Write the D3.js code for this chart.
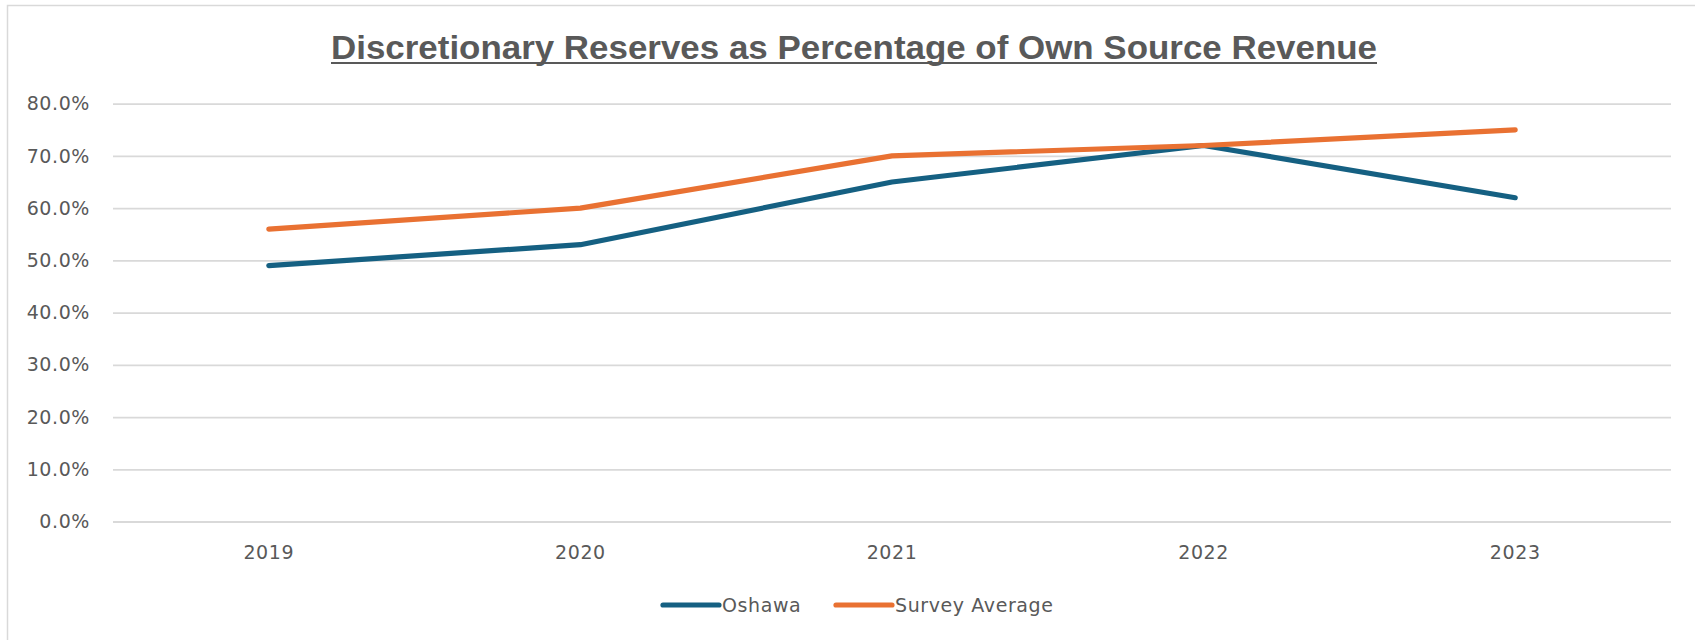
<!DOCTYPE html>
<html>
<head>
<meta charset="utf-8">
<script src="https://cdn.jsdelivr.net/npm/d3@7"></script>
<style>
  body { margin: 0; background: #fff; }
  text { font-family: "DejaVu Sans", sans-serif; fill: #595959; }
</style>
</head>
<body>
<div id="chart"></div>
<script>
var width = 1695;
var height = 640;

// data
var years = ["2019", "2020", "2021", "2022", "2023"];
var oshawa = [0.49, 0.53, 0.65, 0.72, 0.62];
var surveyAvg = [0.56, 0.60, 0.70, 0.72, 0.75];
var yTicks = [0, 0.1, 0.2, 0.3, 0.4, 0.5, 0.6, 0.7, 0.8];
var seriesNames = ["Oshawa", "Survey Average"];
var seriesColors = ["#156082", "#E97132"];

var svg = d3.select("#chart")
            .append("svg")
            .attr("width", width)
            .attr("height", height);

// chart border
svg.append("rect")
   .attr("x", 7.5)
   .attr("y", 5.5)
   .attr("width", width + 20)
   .attr("height", height + 20)
   .attr("fill", "none")
   .attr("stroke", "#d9d9d9")
   .attr("stroke-width", 1.5);

var x = d3.scaleBand()
          .domain(years)
          .range([113, 1671])
          .paddingInner(0)
          .paddingOuter(0);

var y = d3.scaleLinear()
          .domain([0, 0.8])
          .range([521.5, 103.7]);

// title
svg.append("text")
   .attr("x", 854)
   .attr("y", 59)
   .attr("text-anchor", "middle")
   .style("font-family", "'Liberation Sans Narrow', 'Liberation Sans', sans-serif")
   .style("font-weight", "bold")
   .style("font-size", "33px")
   .attr("textLength", 1046)
   .attr("lengthAdjust", "spacingAndGlyphs")
   .text("Discretionary Reserves as Percentage of Own Source Revenue");

svg.append("line")
   .attr("x1", 331).attr("x2", 1377)
   .attr("y1", 63).attr("y2", 63)
   .attr("stroke", "#595959")
   .attr("stroke-width", 2);

// gridlines + y axis labels
var yAxis = d3.axisLeft(y)
              .tickValues(yTicks)
              .tickSize(-(1671 - 113))
              .tickPadding(23)
              .tickFormat(d3.format(".1%"));

var yg = svg.append("g")
   .attr("transform", "translate(113,0)")
   .call(yAxis);
yg.select(".domain").remove();
yg.selectAll(".tick line")
  .attr("stroke", "#d9d9d9")
  .attr("stroke-width", 1.8);
yg.selectAll(".tick text")
  .style("font-size", "19px")
  .style("letter-spacing", "0.6px")
  .attr("fill", "#5f5f5f");

// x axis labels
var xAxis = d3.axisBottom(x).tickSize(0).tickPadding(24);
var xg = svg.append("g")
   .attr("transform", "translate(0,521.5)")
   .call(xAxis);
xg.select(".domain").remove();
xg.selectAll(".tick text")
  .style("font-size", "19px")
  .style("letter-spacing", "0.6px")
  .attr("fill", "#5f5f5f");

var line = d3.line()
   .x(function(d, i){ return x(years[i]) + x.bandwidth() / 2; })
   .y(function(d){ return y(d); });

var allSeries = [oshawa, surveyAvg];
svg.selectAll(".series")
   .data(allSeries)
   .enter()
   .append("path")
   .attr("class", "series")
   .attr("d", line)
   .attr("fill", "none")
   .attr("stroke", function(d, i){ return seriesColors[i]; })
   .attr("stroke-width", 5.2)
   .attr("stroke-linecap", "round")
   .attr("stroke-linejoin", "round");

// legend
var legendX = [663, 836];
var legend = svg.selectAll(".legend")
   .data(seriesNames)
   .enter()
   .append("g")
   .attr("class", "legend")
   .attr("transform", function(d, i){ return "translate(" + legendX[i] + ",605)"; });

legend.append("line")
   .attr("x1", 0).attr("x2", 56)
   .attr("y1", 0).attr("y2", 0)
   .attr("stroke", function(d, i){ return seriesColors[i]; })
   .attr("stroke-width", 5.2)
   .attr("stroke-linecap", "round");

legend.append("text")
   .attr("x", 59)
   .attr("y", 7)
   .style("font-size", "19px")
   .style("letter-spacing", "0.6px")
   .attr("fill", "#5f5f5f")
   .text(function(d){ return d; });
</script>
</body>
</html>
